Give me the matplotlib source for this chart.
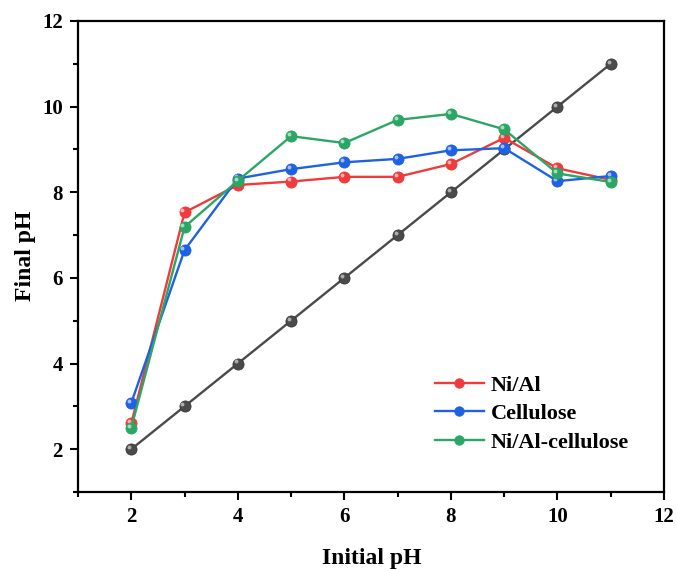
import matplotlib
matplotlib.use("Agg")
import matplotlib.pyplot as plt
from matplotlib.ticker import MultipleLocator
from matplotlib.transforms import offset_copy

initial_ph = [2, 3, 4, 5, 6, 7, 8, 9, 10, 11]
reference = [2, 3, 4, 5, 6, 7, 8, 9, 10, 11]
ni_al = [2.60, 7.53, 8.17, 8.25, 8.36, 8.36, 8.66, 9.27, 8.56, 8.29]
cellulose = [3.08, 6.65, 8.32, 8.54, 8.70, 8.78, 8.98, 9.03, 8.26, 8.38]
ni_al_cell = [2.50, 7.19, 8.27, 9.31, 9.15, 9.69, 9.83, 9.47, 8.44, 8.24]

labels = ["Ni/Al", "Cellulose", "Ni/Al-cellulose"]
colors = ["#ef3b3c", "#1e62e3", "#2ba664"]

plt.rcParams['font.family'] = ['Liberation Serif', 'DejaVu Serif']
plt.rcParams['font.weight'] = 'bold'

fig = plt.figure(figsize=(6.77, 5.70), dpi=100)
ax = fig.add_axes([78/677, 1-492/570, (664-78)/677, (492-21)/570])

ms = 8.0
hl = offset_copy(ax.transData, fig=fig, x=-1.5, y=1.5, units='points')

ax.plot(initial_ph, reference, color="#4a4a4a", lw=1.7, marker='o', ms=ms,
        markeredgecolor="#3a3a3a", markeredgewidth=0.6, zorder=2)
ax.plot(initial_ph, reference, ls='none', marker='o', ms=2.8, color='white',
        alpha=0.55, markeredgewidth=0, transform=hl, zorder=2.5)
for i, (vals, lab, c) in enumerate(zip([ni_al, cellulose, ni_al_cell], labels, colors)):
    ax.plot(initial_ph, vals, color=c, lw=1.7, marker='o', ms=ms,
            markeredgecolor=c, markeredgewidth=0.6, label=lab, zorder=3 + i)
    ax.plot(initial_ph, vals, ls='none', marker='o', ms=2.8, color='white',
            alpha=0.6, markeredgewidth=0, transform=hl, zorder=3.5 + i)

ax.set_xlim(1, 12)
ax.set_ylim(1, 12)
ax.set_xticks([2, 4, 6, 8, 10, 12])
ax.set_yticks([2, 4, 6, 8, 10, 12])
ax.xaxis.set_minor_locator(MultipleLocator(1))
ax.yaxis.set_minor_locator(MultipleLocator(1))
ax.tick_params(which='major', direction='out', length=6, width=1.5, labelsize=15, pad=5)
ax.tick_params(which='minor', direction='out', length=3.5, width=1.5)
for lab in ax.get_xticklabels() + ax.get_yticklabels():
    lab.set_fontweight('bold')
for s in ax.spines.values():
    s.set_linewidth(1.6)

ax.set_xlabel("Initial pH", fontsize=17, fontweight='bold')
ax.set_ylabel("Final pH", fontsize=17, fontweight='bold')
ax.xaxis.set_label_coords((372 - 78) / 586, (492 - 548) / 471)
ax.yaxis.set_label_coords((36 - 78) / 586, (492 - 256) / 471)

leg = ax.legend(loc='upper left', bbox_to_anchor=((435 - 78) / 586, (492 - 375) / 471),
                frameon=False, prop={'weight': 'bold', 'size': 16},
                handlelength=2.2, handletextpad=0.3, labelspacing=0.36,
                borderpad=0, borderaxespad=0, markerscale=0.85)

fig.savefig("out.png", dpi=100)
